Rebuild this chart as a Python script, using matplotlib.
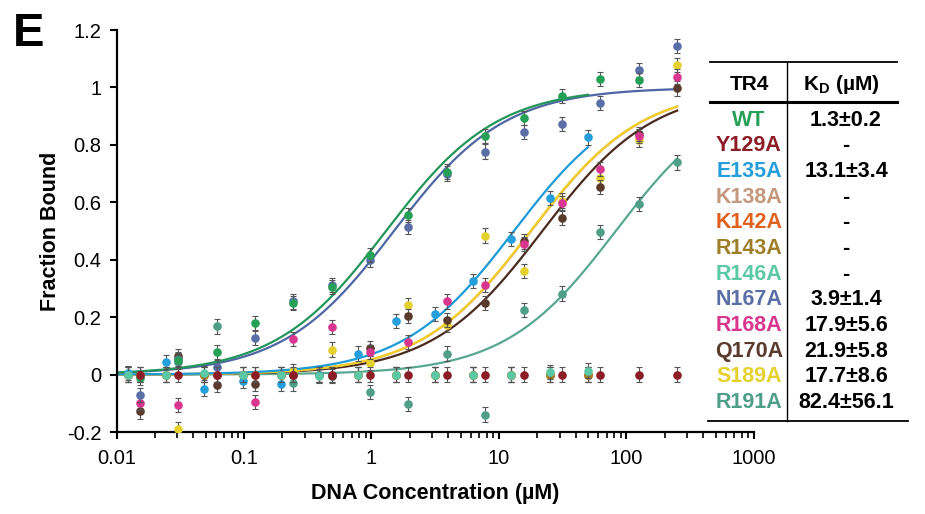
import numpy as np
import matplotlib.pyplot as plt
from matplotlib.lines import Line2D
from matplotlib.ticker import FixedLocator, LogLocator, NullFormatter

plt.rcParams['font.family'] = ['Liberation Sans', 'DejaVu Sans']
plt.rcParams['mathtext.fontset'] = 'custom'
plt.rcParams['mathtext.rm'] = 'Liberation Sans:bold'

# DNA concentrations (uM), two 2-fold dilution series
conc_a = [0.0153, 0.0305, 0.061, 0.122, 0.244, 0.488, 0.977, 1.95, 3.91, 7.81,
          15.6, 31.25, 62.5, 125, 250]
conc_b = [0.0122, 0.0244, 0.0488, 0.0977, 0.195, 0.391, 0.781, 1.56, 3.13, 6.25,
          12.5, 25, 50]

# fraction bound
wt    = [-0.012, 0.05, 0.078, 0.18, 0.25, 0.305, 0.417, 0.555, 0.707, 0.83,
         0.893, 0.97, 1.03, 1.025, np.nan]
n167a = [-0.07, 0.055, 0.027, 0.127, 0.255, 0.313, 0.40, 0.514, 0.70, 0.777,
         0.846, 0.872, 0.947, 1.061, 1.145]
r168a = [-0.099, -0.107, 0.0, -0.096, 0.124, 0.165, 0.078, 0.114, 0.255, 0.313,
         0.455, 0.597, 0.715, 0.83, 1.038]
q170a = [-0.128, 0.064, -0.035, -0.033, 0.0, -0.006, 0.092, 0.205, 0.191, 0.25,
         0.464, 0.545, 0.653, 0.838, 0.997]
s189a = [0.0, -0.191, 0.0, 0.0, 0.012, 0.087, 0.04, 0.241, 0.172, 0.484,
         0.36, 0.606, 0.684, 0.817, 1.078]
r191a = [0.0, 0.043, 0.168, 0.0, -0.031, 0.0, -0.06, -0.102, 0.073, -0.139,
         0.226, 0.282, 0.497, 0.594, 0.739]
y129a = [0.0] * 15
e135a = [0.005, 0.043, -0.05, -0.023, -0.033, 0.0, 0.073, 0.186, 0.212, 0.325,
         0.472, 0.614, 0.826]
r146a = [0.0, 0.0, 0.005, 0.0, 0.0, -0.005, 0.0, 0.0, 0.0, 0.0, 0.0, 0.008, 0.014]
k138a = [0.0] * 13
k142a = [0.0] * 13
r143a = [0.0] * 13

# table
mutants = ['WT', 'Y129A', 'E135A', 'K138A', 'K142A', 'R143A', 'R146A',
           'N167A', 'R168A', 'Q170A', 'S189A', 'R191A']
kd_text = ['1.3±0.2', '-', '13.1±3.4', '-', '-', '-', '-',
           '3.9±1.4', '17.9±5.6', '21.9±5.8', '17.7±8.6', '82.4±56.1']
colors = {'WT': '#26a057', 'Y129A': '#8c1c26', 'E135A': '#259fdb',
          'K138A': '#c4987c', 'K142A': '#e2601e', 'R143A': '#9e7e28',
          'R146A': '#5cc9a6', 'N167A': '#5a6fa8', 'R168A': '#d8368f',
          'Q170A': '#5a3a2c', 'S189A': '#e4d12e', 'R191A': '#4f9f88'}

# fitted curves: (color, Kd used for the drawn fit, max concentration)
curve_names = ['R191A', 'Q170A', 'R168A', 'S189A', 'E135A', 'N167A', 'WT']
curve_kd    = [82.4, 21.9, 17.9, 17.7, 13.1, 1.5, 1.3]
curve_xmax  = [250, 250, 250, 250, 50, 250, 50]
curve_colors = {'R168A': '#eda55a', 'S189A': '#f0cf2a', 'Q170A': '#4a2a1e',
                'E135A': '#1c9bd8', 'N167A': '#4e66a2', 'WT': '#23965a',
                'R191A': '#58a891'}

fig = plt.figure(figsize=(9.25, 5.14), dpi=100)
ax = fig.add_axes([0.126, 0.1595, 0.689, 0.782])

for name, kd, xmax in zip(curve_names, curve_kd, curve_xmax):
    xs = np.logspace(-2, np.log10(xmax), 300)
    ax.plot(xs, xs / (kd + xs), color=curve_colors[name], lw=1.6, zorder=2)

point_sets = [('K138A', conc_b, k138a), ('K142A', conc_b, k142a),
              ('R143A', conc_b, r143a), ('R191A', conc_a, r191a),
              ('S189A', conc_a, s189a), ('Q170A', conc_a, q170a),
              ('R168A', conc_a, r168a), ('N167A', conc_a, n167a),
              ('E135A', conc_b, e135a), ('WT', conc_a, wt),
              ('R146A', conc_b, r146a), ('Y129A', conc_a, y129a)]
for i, (name, xs, ys) in enumerate(point_sets):
    ax.errorbar(xs, ys, yerr=0.025, fmt='o', color=colors[name], ms=6.2,
                mec='none', ecolor='#555555', elinewidth=0.8, capsize=2.5,
                capthick=0.8, zorder=3 + i)

ax.set_xscale('log')
ax.set_xlim(0.01, 1000)
ax.set_ylim(-0.2, 1.2)
ax.xaxis.set_major_locator(FixedLocator([0.01, 0.1, 1, 10, 100, 1000]))
ax.set_xticklabels(['0.01', '0.1', '1', '10', '100', '1000'])
ax.xaxis.set_minor_locator(LogLocator(base=10, subs=np.arange(2, 10)))
ax.xaxis.set_minor_formatter(NullFormatter())
yt = [-0.2, 0, 0.2, 0.4, 0.6, 0.8, 1, 1.2]
ax.set_yticks(yt)
ax.set_yticklabels(['%g' % v for v in yt])
ax.tick_params(axis='both', which='major', labelsize=14.5, length=5, width=1.5,
               direction='out', color='black')
ax.tick_params(axis='x', which='minor', length=4, width=1.2, direction='out')
ax.tick_params(axis='y', pad=6)
ax.tick_params(axis='x', pad=7)
for s in ['top', 'right']:
    ax.spines[s].set_visible(False)
for s in ['left', 'bottom']:
    ax.spines[s].set_linewidth(1.6)

ax.set_xlabel('DNA Concentration (µM)', fontsize=15.5, fontweight='bold', labelpad=11)
ax.set_ylabel('Fraction Bound', fontsize=15.5, fontweight='bold', labelpad=4)

fig.text(13 / 925, 1 - 12 / 514, 'E', fontsize=34, fontweight='bold',
         ha='left', va='top')

# table of KD values
W, H = 925.0, 514.0
def fx(x):
    return x / W
def fy(y):
    return 1 - y / H

for x0, x1, y, lw in [(710, 897, 62, 1.3), (710, 897, 102, 2.2), (708, 908, 421, 1.3)]:
    fig.add_artist(Line2D([fx(x0), fx(x1)], [fy(y), fy(y)], color='black', lw=lw))
fig.add_artist(Line2D([fx(787), fx(787)], [fy(62), fy(421)], color='black', lw=1.0))

fig.text(fx(749), fy(84), 'TR4', fontsize=15, fontweight='bold', ha='center', va='center')
fig.text(fx(841), fy(84), r'K$_{\mathrm{D}}$ (µM)', fontsize=15, fontweight='bold',
         ha='center', va='center')
for i, (m, kd) in enumerate(zip(mutants, kd_text)):
    y = 120 + i * 25.7
    fig.text(fx(749), fy(y), m, fontsize=15.5, fontweight='bold', color=colors[m],
             ha='center', va='center')
    fig.text(fx(846), fy(y), kd, fontsize=15.5, fontweight='bold', color='black',
             ha='center', va='center')

fig.savefig('out.png', dpi=100)
